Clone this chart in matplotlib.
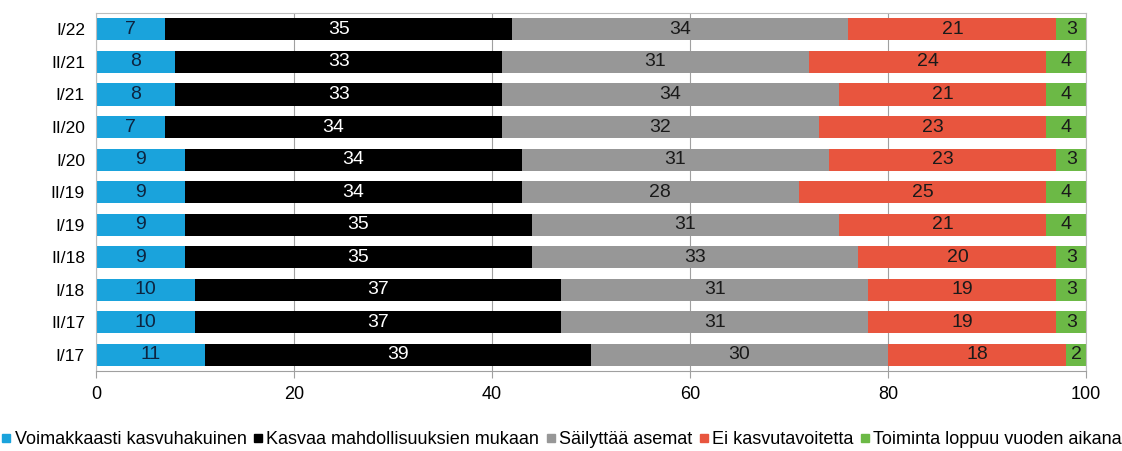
import matplotlib
matplotlib.use("Agg")
import matplotlib.pyplot as plt
from matplotlib.lines import Line2D
import numpy as np

plt.rcParams["font.family"] = ["Liberation Sans", "DejaVu Sans"]

periods = ["I/22", "II/21", "I/21", "II/20", "I/20", "II/19", "I/19",
           "II/18", "I/18", "II/17", "I/17"]
series_names = ["Voimakkaasti kasvuhakuinen", "Kasvaa mahdollisuuksien mukaan",
                "Säilyttää asemat", "Ei kasvutavoitetta",
                "Toiminta loppuu vuoden aikana"]
strong = [7, 8, 8, 7, 9, 9, 9, 9, 10, 10, 11]
grow = [35, 33, 33, 34, 34, 34, 35, 35, 37, 37, 39]
keep = [34, 31, 34, 32, 31, 28, 31, 33, 31, 31, 30]
no_growth = [21, 24, 21, 23, 23, 25, 21, 20, 19, 19, 18]
ending = [3, 4, 4, 4, 3, 4, 4, 3, 3, 3, 2]

colors = ["#1aa3dc", "#000000", "#979797", "#e8553e", "#6cb946"]
text_colors = ["#0d2440", "white", "#1a1a1a", "#1a1a1a", "#1a1a1a"]

fig = plt.figure(figsize=(11.22, 4.51), dpi=100)
ax = fig.add_axes([0.0856, 0.177, 0.8824, 0.794])

y = np.arange(len(periods))
left = np.zeros(len(periods))
for vals, c, tc in zip([strong, grow, keep, no_growth, ending], colors, text_colors):
    vals = np.array(vals, dtype=float)
    bars = ax.barh(y, vals, left=left, height=0.68, color=c, zorder=2)
    ax.bar_label(bars, labels=[str(int(v)) for v in vals], label_type="center",
                 color=tc, fontsize=14)
    left += vals

ax.set_ylim(len(periods) - 0.5, -0.5)
ax.set_xlim(0, 100)
ax.set_yticks(y)
ax.set_yticklabels(periods, fontsize=12.5)
ax.set_xticks([0, 20, 40, 60, 80, 100])
ax.tick_params(axis="y", length=0, pad=8)
ax.tick_params(axis="x", length=5, color="#a0a0a0", labelsize=13, pad=6)
ax.grid(axis="x", color="#a0a0a0", linewidth=0.8, zorder=0)
for s in ax.spines.values():
    s.set_color("#bdbdbd")
    s.set_linewidth(0.8)
ax.spines["bottom"].set_color("#a0a0a0")

handles = [Line2D([], [], marker="s", linestyle="none", markersize=6,
                  markerfacecolor=c, markeredgecolor=c) for c in colors]
fig.legend(handles, series_names, loc="center", bbox_to_anchor=(0.5, 0.025),
           ncol=5, frameon=False, fontsize=13, handletextpad=0.1,
           columnspacing=0.3, handlelength=0.7)

fig.savefig("out.png", dpi=100)
